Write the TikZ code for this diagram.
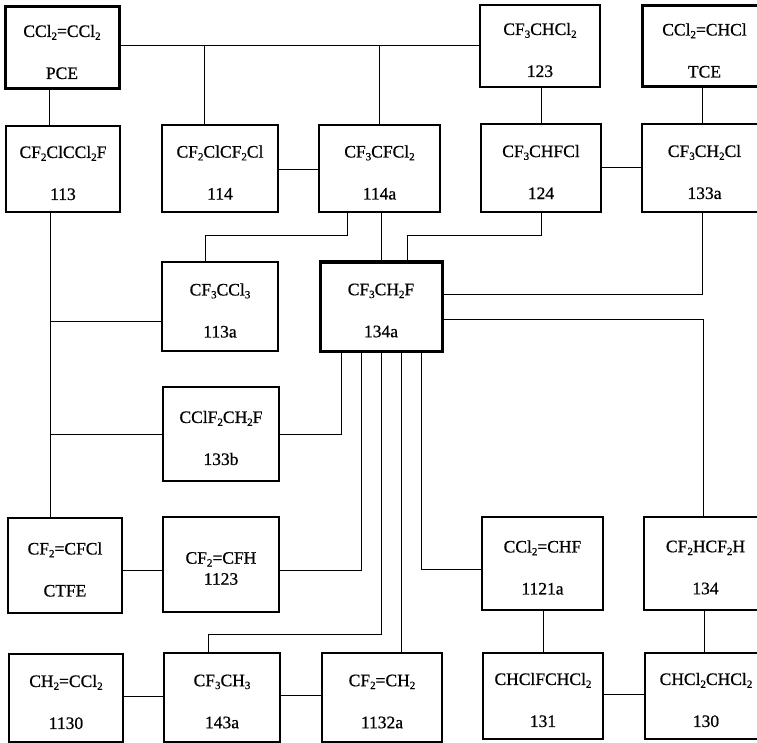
\documentclass[tikz,border=0pt]{standalone}
\usepackage{fontspec}
\setmainfont{Liberation Serif}
\newfontfamily\boxfont{Liberation Serif}[FakeBold=0.7]
\newcommand\chsub[1]{\raisebox{-0.35ex}{\fontsize{11}{11}\selectfont #1}}
\begin{document}
\begin{tikzpicture}[x=1pt,y=-1pt,
  txt/.style={align=center, inner sep=0pt, yshift=-4,
    font=\boxfont\fontsize{17.5}{21}\selectfont},
  box/.style={draw, line width=1.1pt, rectangle, inner sep=0pt},
  thickbox/.style={box, line width=3pt},
  link/.style={draw, line width=1pt}]
\useasboundingbox (0,0) rectangle (757,743);
\clip (0,0) rectangle (757,743);
% row 1
\node[thickbox, minimum width=114, minimum height=82, label={[txt]center:{CCl\chsub{2}=CCl\chsub{2}\\[21pt]PCE}}] (PCE) at (62,48) {};
\node[box, minimum width=120, minimum height=82, label={[txt]center:{CF\chsub{3}CHCl\chsub{2}\\[21pt]123}}] (n123) at (540,46) {};
\node[thickbox, minimum width=125, minimum height=81, label={[txt]center:{CCl\chsub{2}=CHCl\\[21pt]TCE}}] (TCE) at (704.5,46.5) {};
% row 2
\node[box, minimum width=114, minimum height=86, label={[txt]center:{CF\chsub{2}ClCCl\chsub{2}F\\[21pt]113}}] (n113) at (63,169) {};
\node[box, minimum width=116, minimum height=87, label={[txt]center:{CF\chsub{2}ClCF\chsub{2}Cl\\[21pt]114}}] (n114) at (220,168.5) {};
\node[box, minimum width=121, minimum height=87, label={[txt]center:{CF\chsub{3}CFCl\chsub{2}\\[21pt]114a}}] (n114a) at (379.5,168.5) {};
\node[box, minimum width=120, minimum height=88, label={[txt]center:{CF\chsub{3}CHFCl\\[21pt]124}}] (n124) at (541,168) {};
\node[box, minimum width=125, minimum height=88, label={[txt]center:{CF\chsub{3}CH\chsub{2}Cl\\[21pt]133a}}] (n133a) at (704.5,168) {};
% row 3
\node[box, minimum width=116, minimum height=89, label={[txt]center:{CF\chsub{3}CCl\chsub{3}\\[21pt]113a}}] (n113a) at (220,306.5) {};
\node[thickbox, minimum width=122, minimum height=89, label={[txt]center:{CF\chsub{3}CH\chsub{2}F\\[21pt]134a}}] (n134a) at (381,306.5) {};
% row 4
\node[box, minimum width=116, minimum height=94, label={[txt]center:{CClF\chsub{2}CH\chsub{2}F\\[21pt]133b}}] (n133b) at (221,434) {};
% row 5
\node[box, minimum width=114, minimum height=95, label={[txt]center:{CF\chsub{2}=CFCl\\[21pt]CTFE}}] (CTFE) at (65,565.5) {};
\node[box, minimum width=116, minimum height=95, label={[txt]center:{CF\chsub{2}=CFH\\1123}}] (n1123) at (221,564.5) {};
\node[box, minimum width=121, minimum height=93, label={[txt]center:{CCl\chsub{2}=CHF\\[21pt]1121a}}] (n1121a) at (542.5,563.5) {};
\node[box, minimum width=123, minimum height=93, label={[txt]center:{CF\chsub{2}HCF\chsub{2}H\\[21pt]134}}] (n134) at (705.5,563.5) {};
% row 6
\node[box, minimum width=114, minimum height=88, label={[txt]center:{CH\chsub{2}=CCl\chsub{2}\\[21pt]1130}}] (n1130) at (66,698) {};
\node[box, minimum width=116, minimum height=89, label={[txt]center:{CF\chsub{3}CH\chsub{3}\\[21pt]143a}}] (n143a) at (222,697.5) {};
\node[box, minimum width=120, minimum height=89, label={[txt]center:{CF\chsub{2}=CH\chsub{2}\\[21pt]1132a}}] (n1132a) at (382,697.5) {};
\node[box, minimum width=120, minimum height=86, label={[txt]center:{CHClFCHCl\chsub{2}\\[21pt]131}}] (n131) at (543,696) {};
\node[box, minimum width=122, minimum height=86, label={[txt]center:{CHCl\chsub{2}CHCl\chsub{2}\\[21pt]130}}] (n130) at (706,696) {};

% attachment coordinates
\coordinate (b114) at ([xshift=-16]n114.north);
\coordinate (pce113) at ([xshift=-13]PCE.south);
\coordinate (e114) at ([yshift=-1.5]n114.east);
\coordinate (t133a) at ([xshift=-2.5]n133a.north);
\coordinate (s114a) at ([xshift=-32.5]n114a.south);
\coordinate (t113a) at ([xshift=-15]n113a.north);
\coordinate (t134a) at ([xshift=26]n134a.north);
\coordinate (e134aA) at ([yshift=12.5]n134a.east);
\coordinate (s133a) at ([xshift=-2.5]n133a.south);
\coordinate (e134aB) at ([yshift=-12.5]n134a.east);
\coordinate (t134) at ([xshift=-2.5]n134.north);
\coordinate (s113) at ([xshift=-13]n113.south);
\coordinate (w113a) at ([yshift=-14.5]n113a.west);
\coordinate (b1) at ([xshift=-40]n134a.south);
\coordinate (b2) at ([xshift=-20]n134a.south);
\coordinate (b4) at ([xshift=20]n134a.south);
\coordinate (b5) at ([xshift=40]n134a.south);
\coordinate (e1123) at ([yshift=-5.5]n1123.east);
\coordinate (ectfe) at ([yshift=-4.5]CTFE.east);
\coordinate (t143a) at ([xshift=-14]n143a.north);
\coordinate (w1121a) at ([yshift=-5.5]n1121a.west);
\coordinate (t130) at ([xshift=-2]n130.north);
\coordinate (e1130) at ([yshift=2]n1130.east);
\coordinate (e143a) at ([yshift=2.5]n143a.east);
\coordinate (e131) at ([yshift=2]n131.east);

% connectors
\draw[link] (PCE.east |- n123.west) -- (n123.west);
\draw[link] (b114) -- (b114 |- n123.west);
\draw[link] (n114a.north) -- (n114a.north |- n123.west);
\draw[link] (pce113) -- (pce113 |- n113.north);
\draw[link] (e114) -- (e114 -| n114a.west);
\draw[link] (n124.north) -- (n124.north |- n123.south);
\draw[link] (t133a) -- (t133a |- TCE.south);
\draw[link] (n124.east) -- (n124.east -| n133a.west);
\draw[link] (s114a) -- ++(0,23) -| (t113a);
\draw[link] (n134a.north |- n114a.south) -- (n134a.north);
\draw[link] (n124.south) -- ++(0,23) -| (t134a);
\draw[link] (e134aA) -| (s133a);
\draw[link] (e134aB) -| (t134);
\draw[link] (s113) -- (s113 |- CTFE.north);
\draw[link] (w113a) -- (w113a -| s113);
\draw[link] (n133b.west) -- (n133b.west -| s113);
\draw[link] (n133b.east) -| (b1);
\draw[link] (e1123) -| (b2);
\draw[link] (ectfe) -- (ectfe -| n1123.west);
\draw[link] (n134a.south) -- ++(0,282) -| (t143a);
\draw[link] (b4) -- (b4 |- n1132a.north);
\draw[link] (b5) |- (w1121a);
\draw[link] (n131.north) -- (n131.north |- n1121a.south);
\draw[link] (t130) -- (t130 |- n134.south);
\draw[link] (e1130) -- (e1130 -| n143a.west);
\draw[link] (e143a) -- (e143a -| n1132a.west);
\draw[link] (e131) -- (e131 -| n130.west);
\end{tikzpicture}
\end{document}
